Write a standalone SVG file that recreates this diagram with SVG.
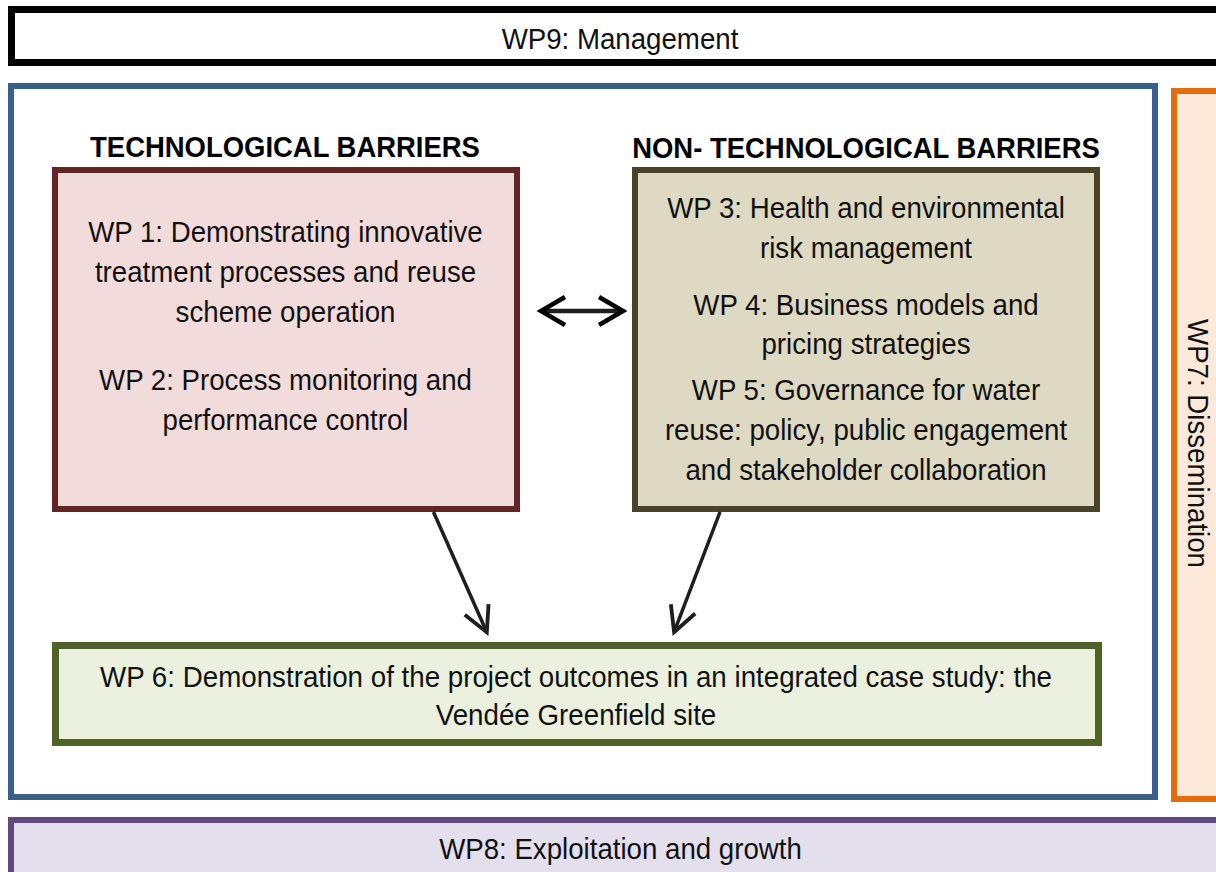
<svg xmlns="http://www.w3.org/2000/svg" width="1216" height="872" viewBox="0 0 1216 872">
  <style>
    .t { font-family: "Liberation Sans", Arial, sans-serif; font-size: 30px; fill: #111; text-anchor: middle; }
    .h { font-family: "Liberation Sans", Arial, sans-serif; font-size: 30px; font-weight: bold; fill: #000; text-anchor: middle; }
    .conn { stroke: #1e1e1e; fill: none; }
  </style>
  <defs>
    <marker id="chev" markerUnits="userSpaceOnUse" markerWidth="40" markerHeight="40" refX="0" refY="0" viewBox="-35 -20 40 40" orient="auto-start-reverse" overflow="visible">
      <path d="M-25,-13 L0,0 L-25,13" fill="none" stroke="#1e1e1e" stroke-width="3.8" stroke-linejoin="miter"/>
    </marker>
    <marker id="chev2" markerUnits="userSpaceOnUse" markerWidth="40" markerHeight="40" refX="0" refY="0" viewBox="-35 -20 40 40" orient="auto-start-reverse" overflow="visible">
      <path d="M-24,-14 L0,0 L-24,14" fill="none" stroke="#000" stroke-width="4.5" stroke-linejoin="miter"/>
    </marker>
  </defs>
  <rect x="0" y="0" width="1216" height="872" fill="#fff"/>

  <g id="wp9">
    <rect x="11.5" y="9.5" width="1220" height="53" fill="#fff" stroke="#000" stroke-width="7"/>
    <g transform="translate(620 0) scale(0.922 1)"><text class="t" x="0" y="49">WP9: Management</text></g>
  </g>

  <g id="main-frame">
    <rect x="11" y="86" width="1144" height="711" fill="#fff" stroke="#3a5f8b" stroke-width="6"/>
  </g>

  <g id="wp7">
    <rect x="1174" y="91" width="60" height="708" fill="#fde9da" stroke="#e46c0a" stroke-width="6"/>
    <g transform="translate(1188 443.5) rotate(90) scale(0.922 1)"><text class="t" x="0" y="0">WP7: Dissemination</text></g>
  </g>

  <g id="wp8">
    <rect x="11" y="820" width="1220" height="70" fill="#e4dfec" stroke="#604a7b" stroke-width="6"/>
    <g transform="translate(620.5 0) scale(0.922 1)"><text class="t" x="0" y="859">WP8: Exploitation and growth</text></g>
  </g>

  <g id="tech-title">
    <g transform="translate(285 0) scale(0.915 1)"><text class="h" x="0" y="157">TECHNOLOGICAL BARRIERS</text></g>
  </g>
  <g id="nontech-title">
    <g transform="translate(866 0) scale(0.915 1)"><text class="h" x="0" y="158">NON- TECHNOLOGICAL BARRIERS</text></g>
  </g>

  <g id="wp1-2">
    <rect x="55" y="170" width="462" height="339" fill="#f2dcdb" stroke="#632523" stroke-width="6"/>
    <g transform="translate(285.5 0) scale(0.922 1)">
      <text class="t" x="0" y="242">WP 1: Demonstrating innovative</text>
      <text class="t" x="0" y="282">treatment processes and reuse</text>
      <text class="t" x="0" y="322">scheme operation</text>
      <text class="t" x="0" y="390">WP 2: Process monitoring and</text>
      <text class="t" x="0" y="430">performance control</text>
    </g>
  </g>

  <g id="wp3-5">
    <rect x="635" y="170" width="462" height="339" fill="#ddd9c3" stroke="#494429" stroke-width="6"/>
    <g transform="translate(866 0) scale(0.922 1)">
      <text class="t" x="0" y="218">WP 3: Health and environmental</text>
      <text class="t" x="0" y="258">risk management</text>
      <text class="t" x="0" y="315">WP 4: Business models and</text>
      <text class="t" x="0" y="354">pricing strategies</text>
      <text class="t" x="0" y="400">WP 5: Governance for water</text>
      <text class="t" x="0" y="440">reuse: policy, public engagement</text>
      <text class="t" x="0" y="480">and stakeholder collaboration</text>
    </g>
  </g>

  <g id="wp6">
    <rect x="55.5" y="645.5" width="1043" height="97" fill="#ebf1de" stroke="#4f6228" stroke-width="7"/>
    <g transform="translate(576 0) scale(0.925 1)">
      <text class="t" x="0" y="687">WP 6: Demonstration of the project outcomes in an integrated case study: the</text>
      <text class="t" x="0" y="725">Vendée Greenfield site</text>
    </g>
  </g>

  <g id="connectors">
    <line class="conn" x1="541" y1="311" x2="623" y2="311" stroke="#000" stroke-width="4.5" marker-start="url(#chev2)" marker-end="url(#chev2)"/>
    <line class="conn" x1="433.5" y1="512" x2="486.8" y2="632.3" stroke-width="3.5" marker-end="url(#chev)"/>
    <line class="conn" x1="720" y1="512" x2="674.1" y2="632.2" stroke-width="3.5" marker-end="url(#chev)"/>
  </g>
</svg>
